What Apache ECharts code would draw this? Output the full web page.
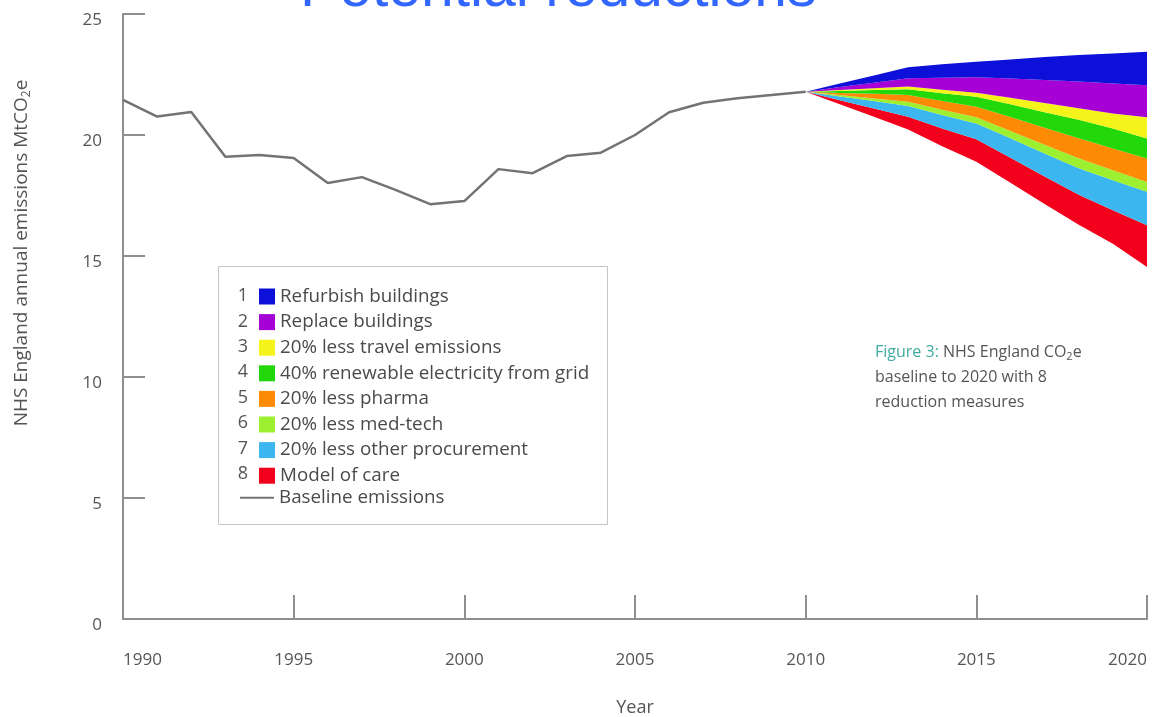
<!DOCTYPE html>
<html>
<head>
<meta charset="utf-8">
<script src="https://cdn.jsdelivr.net/npm/echarts@6/dist/echarts.min.js"></script>
<style>
  html, body { margin: 0; padding: 0; background: #ffffff; }
  #chart { width: 1162px; height: 717px; }
</style>
</head>
<body>
<div id="chart"></div>
<script>
// Year categories along the x axis
const years = ['1990', '1991', '1992', '1993', '1994', '1995', '1996', '1997', '1998', '1999', '2000',
               '2001', '2002', '2003', '2004', '2005', '2006', '2007', '2008', '2009', '2010',
               '2011', '2012', '2013', '2014', '2015', '2016', '2017', '2018', '2019', '2020'];

// Historical baseline emissions, MtCO2e
const baselineYears = ['1990', '1991', '1992', '1993', '1994', '1995', '1996', '1997', '1998', '1999', '2000',
                       '2001', '2002', '2003', '2004', '2005', '2006', '2007', '2008', '2009', '2010'];
const baselineValues = [21.45, 20.76, 20.95, 19.10, 19.17, 19.05, 18.02, 18.26, 17.72, 17.14, 17.27,
                        18.59, 18.42, 19.13, 19.27, 20.00, 20.94, 21.33, 21.52, 21.65, 21.79];

// Projection years and business-as-usual trajectory
const projectionYears = ['2010', '2011', '2012', '2013', '2014', '2015', '2016', '2017', '2018', '2019', '2020'];
const businessAsUsual = [21.79, 22.13, 22.46, 22.80, 22.92, 23.03, 23.12, 23.22, 23.31, 23.37, 23.44];

// Reduction from each measure (MtCO2e), per projection year
const refurbishBuildings   = [0, 0.15, 0.30, 0.45, 0.55, 0.64, 0.79, 0.95, 1.10, 1.24, 1.38];
const replaceBuildings     = [0, 0.12, 0.23, 0.35, 0.50, 0.64, 0.79, 0.95, 1.10, 1.24, 1.33];
const lessTravel           = [0, 0.04, 0.07, 0.11, 0.14, 0.17, 0.27, 0.38, 0.48, 0.62, 0.87];
const renewableElectricity = [0, 0.08, 0.16, 0.24, 0.33, 0.41, 0.53, 0.64, 0.76, 0.83, 0.83];
const lessPharma           = [0, 0.09, 0.19, 0.28, 0.36, 0.44, 0.57, 0.70, 0.83, 0.90, 0.97];
const lessMedTech          = [0, 0.06, 0.11, 0.17, 0.21, 0.25, 0.30, 0.36, 0.41, 0.41, 0.41];
const lessOtherProcurement = [0, 0.15, 0.30, 0.45, 0.56, 0.66, 0.81, 0.95, 1.10, 1.24, 1.38];
const modelOfCare          = [0, 0.17, 0.35, 0.52, 0.73, 0.93, 1.03, 1.14, 1.24, 1.38, 1.72];

const measureNames = [
  'Refurbish buildings',
  'Replace buildings',
  '20% less travel emissions',
  '40% renewable electricity from grid',
  '20% less pharma',
  '20% less med-tech',
  '20% less other procurement',
  'Model of care'
];
const measureValues = [refurbishBuildings, replaceBuildings, lessTravel, renewableElectricity,
                       lessPharma, lessMedTech, lessOtherProcurement, modelOfCare];
const measureColors = ['#0c10d8', '#a602d6', '#f4f41a', '#22d80a', '#ff8a06', '#9cf030', '#3cb6ee', '#f2001c'];

const yTicks = { min: 0, max: 25, interval: 5 };
const xTickEvery = 5;

const FONT = '"Open Sans", "Liberation Sans", sans-serif';
const TEXT_GREY = '#555555';
const AXIS_GREY = '#8f8f8f';

// Spread a series defined on a subset of years onto the full year axis
function onYearAxis(subsetYears, values) {
  return years.map(y => {
    const i = subsetYears.indexOf(y);
    return i >= 0 ? values[i] : '-';
  });
}

// Emissions left after all measures: the floor of the stacked bands
const remaining = projectionYears.map((y, i) =>
  businessAsUsual[i] - measureValues.reduce((s, arr) => s + arr[i], 0));

const series = [];
series.push({
  name: 'remaining',
  type: 'line',
  stack: 'projection',
  symbol: 'none',
  silent: true,
  lineStyle: { width: 0, opacity: 0 },
  data: onYearAxis(projectionYears, remaining),
  z: 2
});
// Stack from the bottom band (Model of care) up to the top band (Refurbish buildings)
for (let k = measureNames.length - 1; k >= 0; k--) {
  series.push({
    name: measureNames[k],
    type: 'line',
    stack: 'projection',
    symbol: 'none',
    silent: true,
    itemStyle: { color: measureColors[k] },
    lineStyle: { width: 0, color: measureColors[k] },
    areaStyle: { color: measureColors[k], opacity: 1 },
    data: onYearAxis(projectionYears, measureValues[k]),
    z: 2
  });
}
series.push({
  name: 'Baseline emissions',
  type: 'line',
  symbol: 'none',
  silent: true,
  itemStyle: { color: '#737373' },
  lineStyle: { color: '#737373', width: 2.5 },
  data: onYearAxis(baselineYears, baselineValues),
  z: 3
});

// Legend frame, item numbers, axis title, caption and heading
const legendTop = 282, legendRow = 25.4;
const graphics = [
  {
    type: 'rect', z: 0,
    shape: { x: 218.5, y: 266.5, width: 389, height: 258 },
    style: { fill: '#ffffff', stroke: '#c4c4c4', lineWidth: 1 }
  }
];
measureNames.forEach((n, i) => {
  graphics.push({
    type: 'text', z: 10,
    style: {
      text: String(i + 1), x: 243, y: legendTop + 14 + i * legendRow,
      align: 'center', verticalAlign: 'middle',
      font: '18px ' + FONT, fill: TEXT_GREY
    }
  });
});
graphics.push({
  type: 'text', z: 10, rotation: Math.PI / 2,
  x: 22, y: 253,
  style: {
    text: 'NHS England annual emissions MtCO{sub|2}e',
    align: 'center', verticalAlign: 'middle',
    font: '19px ' + FONT, fill: TEXT_GREY,
    rich: { sub: { fontSize: 12, fontFamily: FONT, fill: TEXT_GREY, padding: [9, 0, 0, 0] } }
  }
});
graphics.push({
  type: 'text', z: 10,
  style: {
    text: '{fig|Figure 3:} NHS England CO{sub|2}e\nbaseline to 2020 with 8\nreduction measures',
    x: 875, y: 340, align: 'left', verticalAlign: 'top',
    font: '16px ' + FONT, fill: TEXT_GREY, lineHeight: 25,
    rich: {
      fig: { fill: '#40aaa2', fontSize: 16, fontFamily: FONT, lineHeight: 25 },
      sub: { fontSize: 11, fontFamily: FONT, fill: TEXT_GREY, lineHeight: 25, padding: [9, 0, 0, 0] }
    }
  }
});
graphics.push({
  type: 'text', z: 10,
  style: {
    text: 'Potential reductions',
    x: 300, y: -10, align: 'left', verticalAlign: 'middle',
    font: '58.8px "Liberation Sans", Arial, sans-serif', fill: '#3366ff'
  }
});

const chart = echarts.init(document.getElementById('chart'), null, { renderer: 'canvas' });
chart.setOption({
  animation: false,
  backgroundColor: '#ffffff',
  grid: { left: 123, right: 15, top: 14, bottom: 98, containLabel: false, outerBoundsMode: 'none' },
  legend: [
    {
      data: measureNames,
      orient: 'vertical',
      left: 254, top: legendTop,
      itemWidth: 16, itemHeight: 16, itemGap: 6.6,
      icon: 'rect',
      selectedMode: false,
      textStyle: { fontFamily: FONT, fontSize: 18.8, color: '#4a4a4a' },
      z: 10
    },
    {
      data: [{ name: 'Baseline emissions', icon: 'rect', itemStyle: { color: '#737373' } }],
      orient: 'vertical',
      left: 235, top: legendTop + 8 * legendRow - 2,
      itemWidth: 34, itemHeight: 2,
      selectedMode: false,
      textStyle: { fontFamily: FONT, fontSize: 18.8, color: '#4a4a4a' },
      z: 10
    }
  ],
  xAxis: {
    type: 'category',
    data: years,
    boundaryGap: false,
    name: 'Year', nameLocation: 'middle', nameGap: 80,
    nameTextStyle: { fontFamily: FONT, fontSize: 18, color: TEXT_GREY },
    axisLine: { show: true, lineStyle: { color: AXIS_GREY, width: 2 } },
    axisTick: { show: true, inside: true, length: 24, interval: xTickEvery - 1,
                lineStyle: { color: AXIS_GREY, width: 2 } },
    axisLabel: {
      fontFamily: FONT, fontSize: 17, color: TEXT_GREY, margin: 33,
      interval: xTickEvery - 1,
      alignMinLabel: 'left', alignMaxLabel: 'right'
    },
    splitLine: { show: false }
  },
  yAxis: {
    type: 'value',
    min: yTicks.min, max: yTicks.max, interval: yTicks.interval,
    axisLine: { show: true, lineStyle: { color: AXIS_GREY, width: 2 } },
    axisTick: { show: true, inside: true, length: 22, lineStyle: { color: AXIS_GREY, width: 2 } },
    axisLabel: {
      fontFamily: FONT, fontSize: 17, color: TEXT_GREY, margin: 21,
      verticalAlign: 'top', lineHeight: 12
    },
    splitLine: { show: false }
  },
  series: series,
  graphic: graphics
});
</script>
</body>
</html>
